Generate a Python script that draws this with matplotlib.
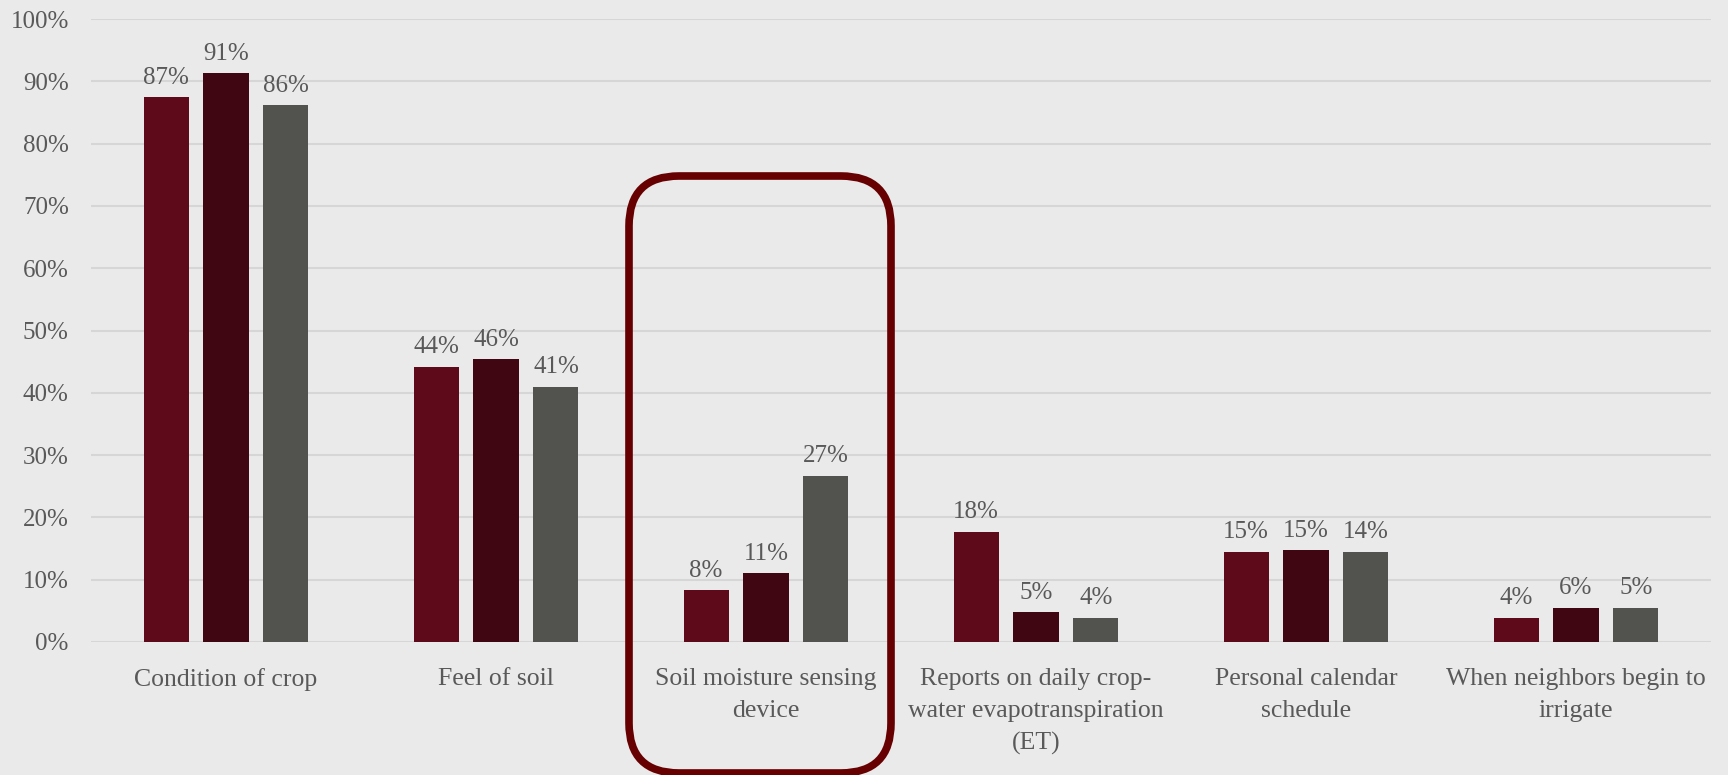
import matplotlib.pyplot as plt
import numpy as np
from matplotlib.patches import FancyBboxPatch
from matplotlib.ticker import PercentFormatter

categories = ["Condition of crop", "Feel of soil", "Soil moisture sensing\ndevice",
              "Reports on daily crop-\nwater evapotranspiration\n(ET)",
              "Personal calendar\nschedule", "When neighbors begin to\nirrigate"]
series_a = [87.5, 44.2, 8.3, 17.7, 14.5, 3.9]
series_b = [91.3, 45.4, 11.0, 4.8, 14.7, 5.5]
series_c = [86.2, 41.0, 26.7, 3.9, 14.5, 5.5]
labels_a = ["87%", "44%", "8%", "18%", "15%", "4%"]
labels_b = ["91%", "46%", "11%", "5%", "15%", "6%"]
labels_c = ["86%", "41%", "27%", "4%", "14%", "5%"]
yticks = [0, 10, 20, 30, 40, 50, 60, 70, 80, 90, 100]

colors = ["#5E0A1A", "#400612", "#52534E"]
txt = "#595959"
bg = "#EAEAEA"

plt.rcParams['font.family'] = ['Liberation Serif', 'DejaVu Serif']

fig = plt.figure(figsize=(17.28, 7.75), dpi=100, facecolor=bg)
ax = fig.add_axes([91 / 1728, 133 / 775, (1711 - 91) / 1728, (642 - 19) / 775])
ax.set_facecolor(bg)

x = np.arange(len(categories))
w = 0.167
step = 0.222
for i, (vals, labs) in enumerate([(series_a, labels_a), (series_b, labels_b), (series_c, labels_c)]):
    xs = x + (i - 1) * step
    ax.bar(xs, vals, width=w, color=colors[i], zorder=3)
    for xx, v, lab in zip(xs, vals, labs):
        ax.annotate(lab, (xx, v), xytext=(0, 6), textcoords="offset points",
                    ha="center", va="bottom", fontsize=18, color=txt)

ax.set_xlim(-0.5, len(categories) - 0.5)
ax.set_ylim(0, 100)
ax.set_yticks(yticks)
ax.yaxis.set_major_formatter(PercentFormatter(decimals=0))
ax.set_xticks(x)
ax.set_xticklabels(categories, fontsize=18.5, color=txt, linespacing=1.55)
ax.tick_params(axis="y", length=0, pad=16, labelsize=18, labelcolor=txt)
ax.tick_params(axis="x", length=0, pad=19)
ax.grid(axis="y", color="#D6D6D6", linewidth=1.5, zorder=0)
for s in ax.spines.values():
    s.set_visible(False)

# highlight box around the soil moisture group (in inches from bottom-left)
box = FancyBboxPatch((6.29, 0.02), 8.91 - 6.29, 5.99 - 0.02,
                     boxstyle="round,pad=0,rounding_size=0.5",
                     transform=fig.dpi_scale_trans, fill=False,
                     edgecolor="#670000", linewidth=5.5, zorder=10, clip_on=False)
fig.patches.append(box)

fig.savefig("out.png", dpi=100, facecolor=bg)
